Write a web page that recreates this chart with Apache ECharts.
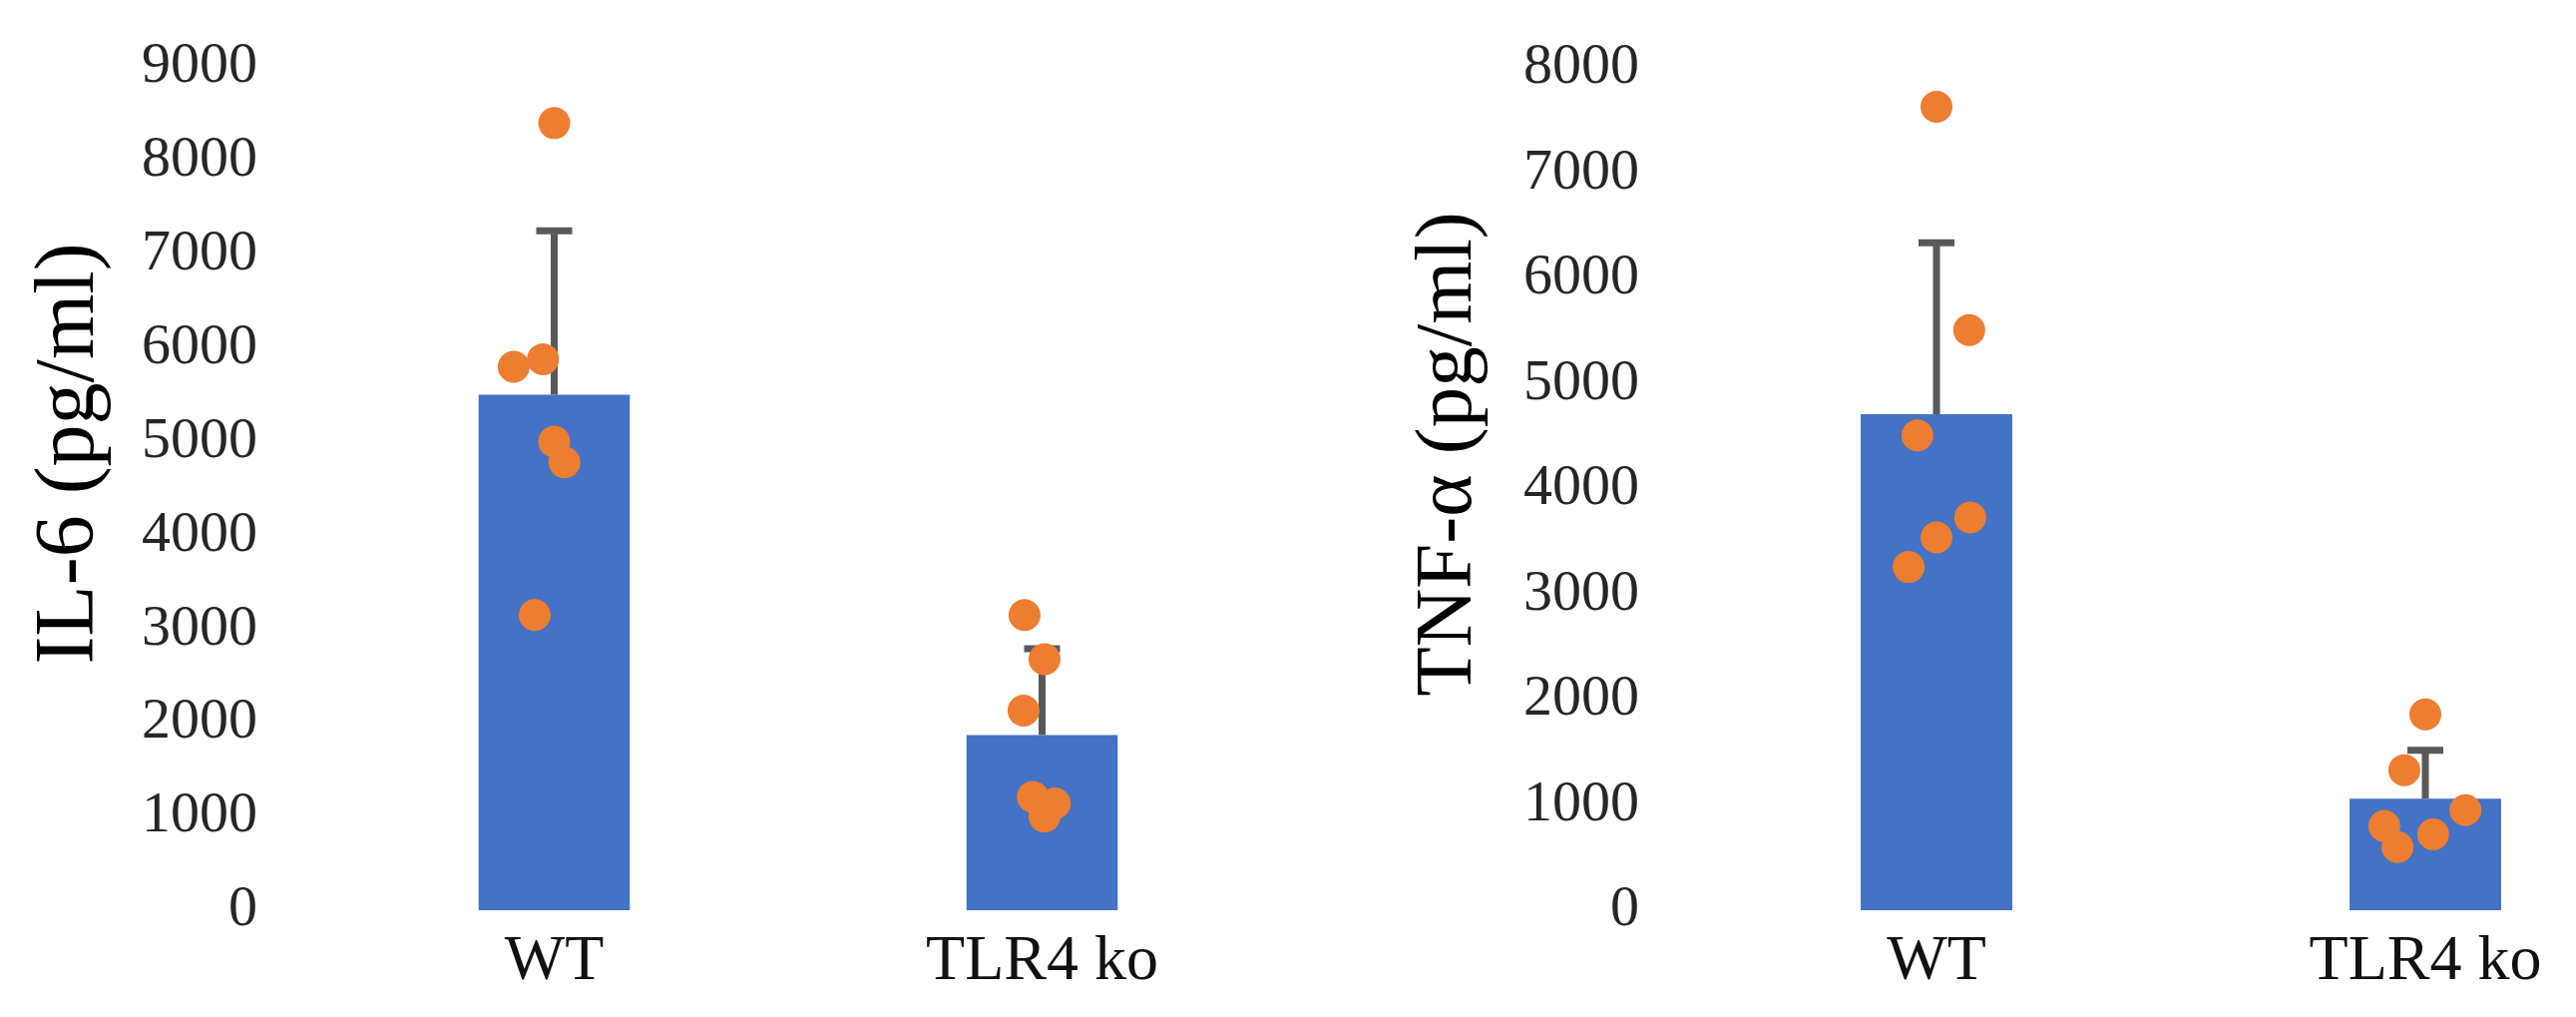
<!DOCTYPE html>
<html>
<head>
<meta charset="utf-8">
<title>IL-6 / TNF-α</title>
<script src="https://cdn.jsdelivr.net/npm/echarts@6/dist/echarts.min.js"></script>
<style>
    html, body { margin: 0; padding: 0; background: #fff; }
    #chart { width: 2582px; height: 1019px; }
</style>
</head>
<body>
<div id="chart"></div>
<script>
// 组别
var categories = ['WT', 'TLR4 ko'];

// IL-6 均值 / 标准差
var il6Mean = [5500, 1870];
var il6Sd = [1750, 920];
// IL-6 单个样本点 (jitter = 横向偏移, 以类目宽度为单位)
var il6WtPoints = [8400, 5800, 5880, 5000, 4780, 3150];
var il6WtJitter = [0, -0.083, -0.023, 0, 0.021, -0.04];
var il6KoPoints = [3150, 2680, 2130, 1210, 1140, 1000];
var il6KoJitter = [-0.036, 0.005, -0.038, -0.019, 0.026, 0.005];

// TNF-α 均值 / 标准差
var tnfMean = [4710, 1060];
var tnfSd = [1630, 460];
var tnfWtPoints = [7630, 5510, 4510, 3730, 3540, 3260];
var tnfWtJitter = [0, 0.067, -0.039, 0.069, 0, -0.057];
var tnfKoPoints = [1860, 1330, 950, 800, 720, 600];
var tnfKoJitter = [0, -0.043, 0.082, -0.084, 0.016, -0.057];

// 坐标轴范围
var il6Max = 9000;
var tnfMax = 8000;
var tickStep = 1000;

var fontFamily = '"Liberation Serif", "Times New Roman", serif';
var barColor = '#4472C4';
var dotColor = '#ED7D31';
var errColor = '#595959';

// 把点和偏移拼成 [x, y]
function toPoints(index, values, jitter) {
    var out = [];
    for (var i = 0; i < values.length; i++) {
        out.push([index + jitter[i], values[i]]);
    }
    return out;
}

function errData(mean, sd) {
    var out = [];
    for (var i = 0; i < mean.length; i++) {
        out.push([i, mean[i], mean[i] + sd[i]]);
    }
    return out;
}

// 误差线 (只画上半部分)
function renderErr(params, api) {
    var base = api.coord([api.value(0), api.value(1)]);
    var top = api.coord([api.value(0), api.value(2)]);
    var half = 18;
    var style = { stroke: errColor, lineWidth: 7 };
    return {
        type: 'group',
        children: [
            { type: 'line', shape: { x1: base[0], y1: base[1], x2: top[0], y2: top[1] + 3 }, style: style },
            { type: 'line', shape: { x1: top[0] - half, y1: top[1], x2: top[0] + half, y2: top[1] }, style: style }
        ]
    };
}

var chart = echarts.init(document.getElementById('chart'));

function catAxis(gridIndex) {
    return {
        type: 'category',
        gridIndex: gridIndex,
        data: categories,
        axisLine: { show: false },
        axisTick: { show: false },
        axisLabel: { fontFamily: fontFamily, fontSize: 64, color: '#111', margin: 20 }
    };
}

function jitterAxis(gridIndex) {
    return { type: 'value', gridIndex: gridIndex, min: -0.5, max: 1.5, show: false };
}

function valAxis(gridIndex, max, name, gap, size) {
    return {
        type: 'value',
        gridIndex: gridIndex,
        min: 0,
        max: max,
        interval: tickStep,
        name: name,
        nameLocation: 'middle',
        nameRotate: 90,
        nameGap: gap,
        nameTextStyle: { fontFamily: fontFamily, fontSize: size, color: '#000', padding: [0, 0, 0, 70] },
        axisLine: { show: false },
        axisTick: { show: false },
        splitLine: { show: false },
        axisLabel: {
            fontFamily: fontFamily, fontSize: 58, color: '#262626', margin: 53,
            formatter: function (v) { return String(v); }
        }
    };
}

var option = {
    animation: false,
    grid: [
        { left: 311, top: 67, width: 978, height: 845, outerBoundsMode: 'none' },
        { left: 1696, top: 68, width: 980, height: 844, outerBoundsMode: 'none' }
    ],
    xAxis: [catAxis(0), catAxis(1), jitterAxis(0), jitterAxis(1)],
    yAxis: [valAxis(0, il6Max, 'IL-6 (pg/ml)', 198, 84), valAxis(1, tnfMax, 'TNF-α (pg/ml)', 203, 81)],
    series: [
        // 柱状图
        { type: 'bar', xAxisIndex: 0, yAxisIndex: 0, data: il6Mean, barWidth: '31%', itemStyle: { color: barColor }, z: 2 },
        { type: 'bar', xAxisIndex: 1, yAxisIndex: 1, data: tnfMean, barWidth: '31%', itemStyle: { color: barColor }, z: 2 },
        // 误差线
        { type: 'custom', xAxisIndex: 0, yAxisIndex: 0, data: errData(il6Mean, il6Sd), renderItem: renderErr, encode: { x: 0, y: [1, 2] }, z: 3 },
        { type: 'custom', xAxisIndex: 1, yAxisIndex: 1, data: errData(tnfMean, tnfSd), renderItem: renderErr, encode: { x: 0, y: [1, 2] }, z: 3 },
        // 散点
        { type: 'scatter', xAxisIndex: 2, yAxisIndex: 0, data: toPoints(0, il6WtPoints, il6WtJitter).concat(toPoints(1, il6KoPoints, il6KoJitter)), symbolSize: 32, itemStyle: { color: dotColor, opacity: 1 }, z: 4 },
        { type: 'scatter', xAxisIndex: 3, yAxisIndex: 1, data: toPoints(0, tnfWtPoints, tnfWtJitter).concat(toPoints(1, tnfKoPoints, tnfKoJitter)), symbolSize: 32, itemStyle: { color: dotColor, opacity: 1 }, z: 4 }
    ]
};

chart.setOption(option);
</script>
</body>
</html>
